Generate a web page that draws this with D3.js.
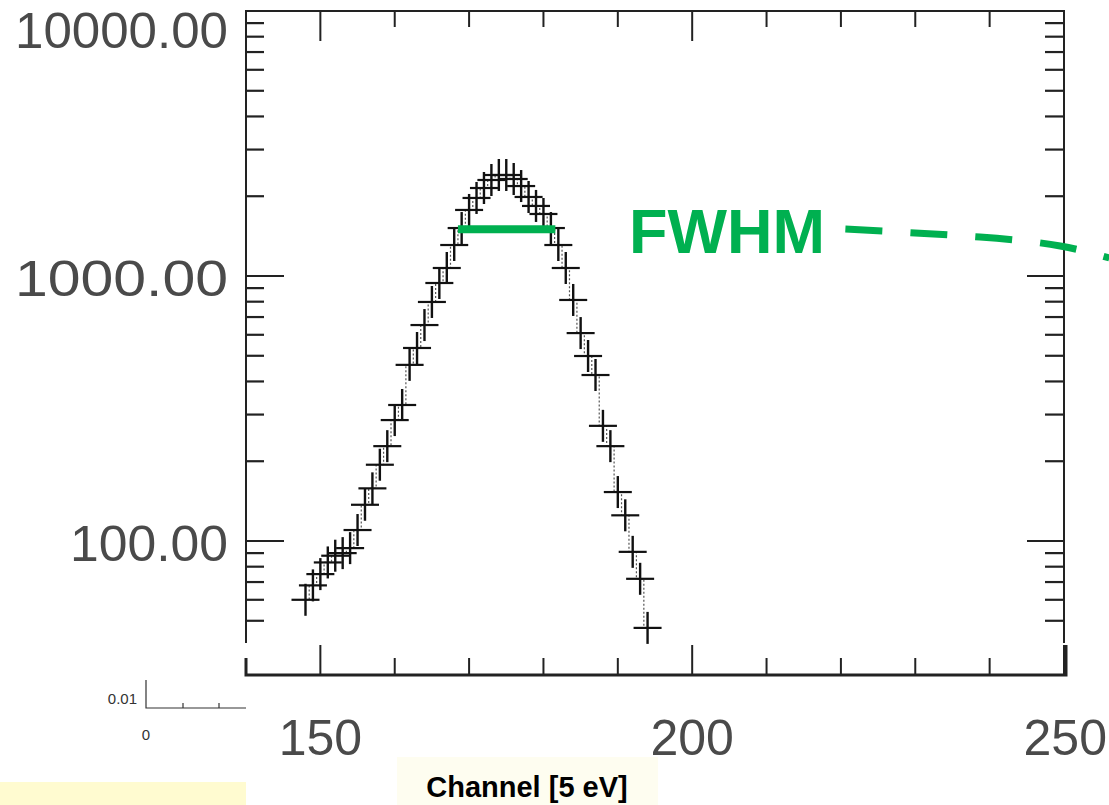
<!DOCTYPE html>
<html>
<head>
<meta charset="utf-8">
<script src="https://cdn.jsdelivr.net/npm/d3@7"></script>
<style>
  html, body { margin: 0; padding: 0; background: #ffffff; }
  svg { display: block; }
</style>
</head>
<body>
<svg id="chart" width="1109" height="805"></svg>
<script>
// ---- data ----
const channels = [148,149,150,151,152,153,154,155,156,157,158,159,160,161,162,163,164,165,166,167,168,169,170,171,
                  172,173,174,175,176,177,178,179,180,181,182,183,184,185,186,187,188,189,190,191,192,193,194];
const counts   = [60,68,75,83,88,90,94,110,137,158,194,228,286,326,462,535,653,798,941,1072,1309,1517,1775,1970,
                  2148,2303,2405,2405,2323,2185,1987,1838,1714,1517,1309,1072,812,609,499,423,272,228,153,125,91,72,47];
const xTicksMajor = [150, 200, 250];
const xTicksMinor = [160, 170, 180, 190, 210, 220, 230, 240];
const xTickLabels = ["150", "200", "250"];
const yTicksMajor = [100, 1000, 10000];
const yTickLabels = ["100.00", "1000.00", "10000.00"];
const yTicksMinor = [40,50,60,70,80,90,200,300,400,500,600,700,800,900,2000,3000,4000,5000,6000,7000,8000,9000];
const fwhmLine  = [168.5, 181.6];   // channels
const fwhmLevel = 1500;             // counts
const annotationPath = [[220.6,1503],[238.7,1403],[249.5,1298],[256.1,1170]]; // [channel, counts]
const annotationText = "FWHM";
const annotationAnchor = [191.5, 1221];
const xTitle = "Channel [5 eV]";

// ---- layout / style ----
const yLabelWidths = [158, 213, 213];
const svg = d3.select("#chart");
const L = 246, R = 1064, T = 11, B = 675, axisCut = 643;
const x = d3.scaleLinear().domain([140, 250]).range([L, R]);
const y = d3.scaleLog().domain([100, 10000]).range([541, T]);
const green = "#00b050";
const font = "Liberation Sans, Arial, sans-serif";

// background boxes
svg.append("rect").attr("x", 0).attr("y", 782).attr("width", 246).attr("height", 23).attr("fill", "#fffbd0");
svg.append("rect").attr("x", 397).attr("y", 757).attr("width", 261).attr("height", 48).attr("fill", "#fefdf0");

const ax = svg.append("g").attr("stroke", "#222").attr("fill", "none");
// frame (upper part, cut at bottom)
ax.append("path").attr("stroke-width", 2)
  .attr("d", `M${L},${axisCut}V${T}H${R}V${axisCut}`);
// bottom pasted axis
ax.append("path").attr("stroke-width", 3)
  .attr("d", `M${L},658V${B}H${R + 2}V645`);

// y ticks (left and right)
const yMaj = yTicksMajor.filter(v => y(v) <= axisCut);
const yMin = yTicksMinor.filter(v => y(v) <= axisCut);
yMaj.forEach(v => {
  ax.append("line").attr("x1", L).attr("x2", L + 38).attr("y1", y(v)).attr("y2", y(v)).attr("stroke-width", 2);
  ax.append("line").attr("x1", R).attr("x2", R - 37).attr("y1", y(v)).attr("y2", y(v)).attr("stroke-width", 2);
});
yMin.forEach(v => {
  ax.append("line").attr("x1", L).attr("x2", L + 18).attr("y1", y(v)).attr("y2", y(v)).attr("stroke-width", 2.2);
  ax.append("line").attr("x1", R).attr("x2", R - 19).attr("y1", y(v)).attr("y2", y(v)).attr("stroke-width", 2.2);
});
// x ticks (top and bottom)
xTicksMajor.forEach(v => {
  ax.append("line").attr("x1", x(v)).attr("x2", x(v)).attr("y1", T).attr("y2", T + 30).attr("stroke-width", 2);
  ax.append("line").attr("x1", x(v)).attr("x2", x(v)).attr("y1", B).attr("y2", B - 30).attr("stroke-width", 2);
});
xTicksMinor.forEach(v => {
  ax.append("line").attr("x1", x(v)).attr("x2", x(v)).attr("y1", T).attr("y2", T + 16).attr("stroke-width", 2);
  ax.append("line").attr("x1", x(v)).attr("x2", x(v)).attr("y1", B).attr("y2", B - 17).attr("stroke-width", 2);
});

// y labels
svg.append("g").selectAll("text").data(yTicksMajor).join("text")
  .attr("x", 228).attr("y", (d) => Math.max(y(d) + 3, 31))
  .attr("text-anchor", "end").attr("dominant-baseline", "central")
  .attr("font-family", font).attr("font-size", 50)
  .attr("textLength", (d, i) => yLabelWidths[i]).attr("lengthAdjust", "spacingAndGlyphs")
  .attr("fill", "#4a4a4a")
  .text((d, i) => yTickLabels[i]);
// x labels
const lastX = xTicksMajor.length - 1;
svg.append("g").selectAll("text").data(xTicksMajor).join("text")
  .attr("x", (d, i) => i === lastX ? 1107 : x(d)).attr("y", 738)
  .attr("text-anchor", (d, i) => i === lastX ? "end" : "middle").attr("dominant-baseline", "central")
  .attr("font-family", font).attr("font-size", 50)
  .attr("fill", "#4a4a4a")
  .text((d, i) => xTickLabels[i]);

// small inset axis bottom-left
const sm = svg.append("g").attr("stroke", "#333").attr("stroke-width", 1.2).attr("fill", "none");
sm.append("path").attr("d", "M146,680V708H246");
sm.append("line").attr("x1", 183).attr("x2", 183).attr("y1", 703).attr("y2", 708);
sm.append("line").attr("x1", 219).attr("x2", 219).attr("y1", 703).attr("y2", 708);
svg.append("text").attr("x", 137).attr("y", 698).attr("text-anchor", "end").attr("dominant-baseline", "central")
  .attr("font-family", font).attr("font-size", 15).attr("fill", "#333").text("0.01");
svg.append("text").attr("x", 146).attr("y", 734).attr("text-anchor", "middle").attr("dominant-baseline", "central")
  .attr("font-family", font).attr("font-size", 15).attr("fill", "#333").text("0");

// data: dotted histogram
const pts = channels.map((c, i) => [c, counts[i]]);
svg.append("path").datum(pts)
  .attr("fill", "none").attr("stroke", "#555").attr("stroke-width", 1.2).attr("stroke-dasharray", "2,2")
  .attr("d", d3.line().x(d => x(d[0])).y(d => y(d[1])).curve(d3.curveStep));

// crosses
const cr = svg.append("g").attr("stroke", "#111");
pts.forEach(d => {
  const cx = x(d[0]), cy = y(d[1]);
  cr.append("line").attr("x1", cx - 14).attr("x2", cx + 14).attr("y1", cy).attr("y2", cy).attr("stroke-width", 2.2);
  cr.append("line").attr("x1", cx).attr("x2", cx).attr("y1", cy - 16).attr("y2", cy + 16).attr("stroke-width", 2.4);
});

// FWHM bar
svg.append("line").attr("x1", x(fwhmLine[0])).attr("x2", x(fwhmLine[1]))
  .attr("y1", y(fwhmLevel)).attr("y2", y(fwhmLevel))
  .attr("stroke", green).attr("stroke-width", 8);

// annotation
svg.append("text").attr("x", x(annotationAnchor[0])).attr("y", y(annotationAnchor[1]))
  .attr("font-family", font).attr("font-weight", "bold")
  .attr("font-size", 63).attr("fill", green).text(annotationText);
svg.append("path").datum(annotationPath)
  .attr("fill", "none").attr("stroke", green).attr("stroke-width", 7).attr("stroke-dasharray", "37,28")
  .attr("d", d3.line().x(d => x(d[0])).y(d => y(d[1])).curve(d3.curveNatural));

// x title
svg.append("text").attr("x", 527).attr("y", 787).attr("text-anchor", "middle").attr("dominant-baseline", "central")
  .attr("font-family", font).attr("font-weight", "bold")
  .attr("font-size", 29).attr("fill", "#000").text(xTitle);
</script>
</body>
</html>
